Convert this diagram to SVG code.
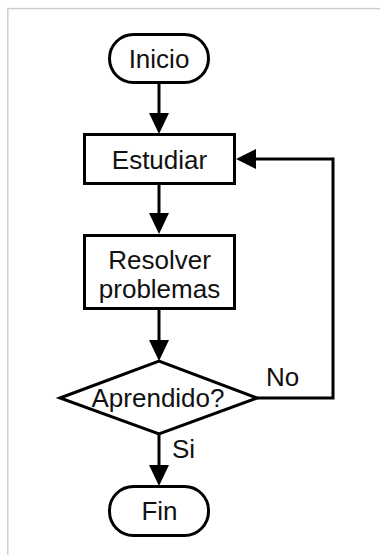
<svg xmlns="http://www.w3.org/2000/svg" width="380" height="555" viewBox="0 0 380 555">
  <defs>
    <style>
      .shape { fill: #ffffff; stroke: #000000; stroke-width: 3; }
      .line { fill: none; stroke: #000000; stroke-width: 3; }
      .head { fill: #000000; stroke: none; }
      text { font-family: "Liberation Sans", Arial, sans-serif; font-size: 26px; fill: #111111; }
      .c { text-anchor: middle; }
    </style>
  </defs>
  <rect x="0" y="0" width="380" height="555" fill="#ffffff"/>
  <rect x="7.8" y="8.6" width="400" height="600" fill="#ffffff" stroke="#cfcfcf" stroke-width="1.5"/>

  <g id="connectors">
    <line class="line" x1="159" y1="82" x2="159" y2="114"/>
    <polygon class="head" points="149,113 169,113 159,134"/>
    <line class="line" x1="159" y1="184" x2="159" y2="214"/>
    <polygon class="head" points="149,213 169,213 159,234"/>
    <line class="line" x1="159" y1="309" x2="159" y2="341"/>
    <polygon class="head" points="149,340 169,340 159,361"/>
    <line class="line" x1="159" y1="434" x2="159" y2="466"/>
    <polygon class="head" points="149,465 169,465 159,486"/>
    <polyline class="line" points="257,398 333,398 333,159 255,159"/>
    <polygon class="head" points="256,149 256,169 236,159"/>
    <text x="266" y="386">No</text>
    <text x="172" y="458">Si</text>
  </g>

  <g id="inicio">
    <rect class="shape" x="109.5" y="34.5" width="99" height="48" rx="24" ry="24"/>
    <text class="c" x="159" y="67.5">Inicio</text>
  </g>

  <g id="estudiar">
    <rect class="shape" x="84.5" y="134.5" width="150" height="49"/>
    <text class="c" x="159.5" y="168.5">Estudiar</text>
  </g>

  <g id="resolver">
    <rect class="shape" x="84.5" y="235.5" width="150" height="73"/>
    <text class="c" x="159.5" y="269">Resolver</text>
    <text class="c" x="159.5" y="298">problemas</text>
  </g>

  <g id="aprendido">
    <polygon class="shape" points="60,398 159,361 257,398 159,434"/>
    <text class="c" x="158" y="407">Aprendido?</text>
  </g>

  <g id="fin">
    <rect class="shape" x="109.5" y="486.5" width="99" height="49" rx="24" ry="24"/>
    <text class="c" x="159.5" y="520">Fin</text>
  </g>
</svg>
